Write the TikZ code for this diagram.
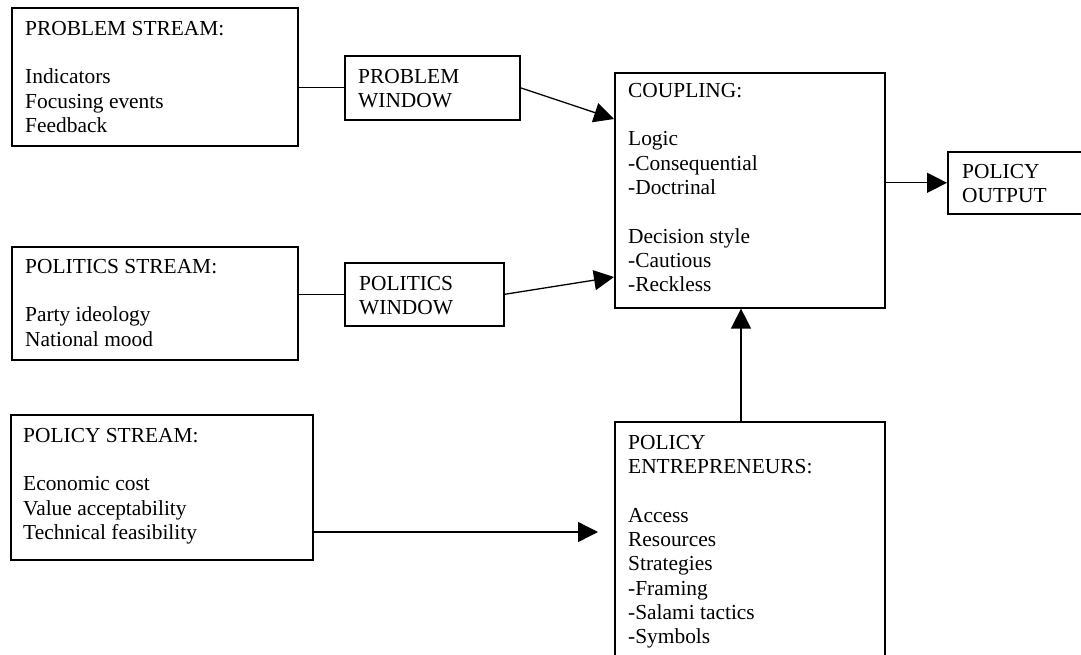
\documentclass[tikz,border=0pt]{standalone}
\usepackage{fontspec}
\setmainfont{Liberation Serif}
\usetikzlibrary{arrows.meta,calc}
\begin{document}
\begin{tikzpicture}[x=1pt,y=-1pt,
  box/.style={draw,line width=1.6pt,rectangle,inner sep=0pt,anchor=north west},
  txt/.style={anchor=north west,inner sep=0pt,align=left,font=\fontsize{21.4}{24.3}\selectfont},
  link/.style={line width=1.3pt},
  arr/.style={line width=1.3pt,-{Triangle[length=20pt,width=20pt]}}]
\useasboundingbox[fill=white] (0,0) rectangle (1081,654);
% boxes
\node[box,minimum width=286pt,minimum height=138pt] (ps) at (11,7) {};
\node[box,minimum width=175pt,minimum height=64pt] (pw) at (344,55) {};
\node[box,minimum width=286pt,minimum height=113pt] (pos) at (11,246) {};
\node[box,minimum width=159pt,minimum height=63pt] (pow) at (344,262) {};
\node[box,minimum width=270pt,minimum height=235pt] (coup) at (614,72) {};
\node[box,minimum width=150pt,minimum height=62pt] (po) at (947,151) {};
\node[box,minimum width=302pt,minimum height=145pt] (pols) at (10,414) {};
\node[box,minimum width=270pt,minimum height=260pt] (pe) at (614,421) {};
% texts
\node[txt] (pst) at (25,21) {PROBLEM STREAM:\\[24.3pt]Indicators\\Focusing events\\Feedback};
\node[txt] (pwt) at (358,69) {PROBLEM\\WINDOW};
\node[txt] (post) at (25,259) {POLITICS STREAM:\\[24.3pt]Party ideology\\National mood};
\node[txt] (powt) at (359,276) {POLITICS\\WINDOW};
\node[txt] (coupt) at (628,83) {COUPLING:\\[24.3pt]Logic\\-Consequential\\-Doctrinal\\[24.3pt]Decision style\\-Cautious\\-Reckless};
\node[txt] (pot) at (962,164) {POLICY\\OUTPUT};
\node[txt] (polst) at (23,428) {POLICY STREAM:\\[24.3pt]Economic cost\\Value acceptability\\Technical feasibility};
\node[txt] (pet) at (628,435) {POLICY\\ENTREPRENEURS:\\[24.3pt]Access\\Resources\\Strategies\\-Framing\\-Salami tactics\\-Symbols};
% connector anchors
\coordinate (c1) at ($(coup.north west)+(0,47)$);
\coordinate (c2) at ($(coup.north west)+(0,205)$);
\coordinate (c3) at ($(pe.north west)+(127,0)$);
\coordinate (c4) at ($(pols.north east)+(0,118)$);
\coordinate (c5) at ($(pe.north west)+(-16,111)$);
% connectors
\draw[link] (pw.west) -- (pw.west -| ps.east);
\draw[arr] (pw.east) -- (c1);
\draw[link] (pow.west) -- (pow.west -| pos.east);
\draw[arr] (pow.east) -- (c2);
\draw[arr] (po.west -| coup.east) -- (po.west);
\draw[arr] (c3) -- (c3 |- coup.south);
\draw[arr] (c4) -- (c5);
\end{tikzpicture}
\end{document}
